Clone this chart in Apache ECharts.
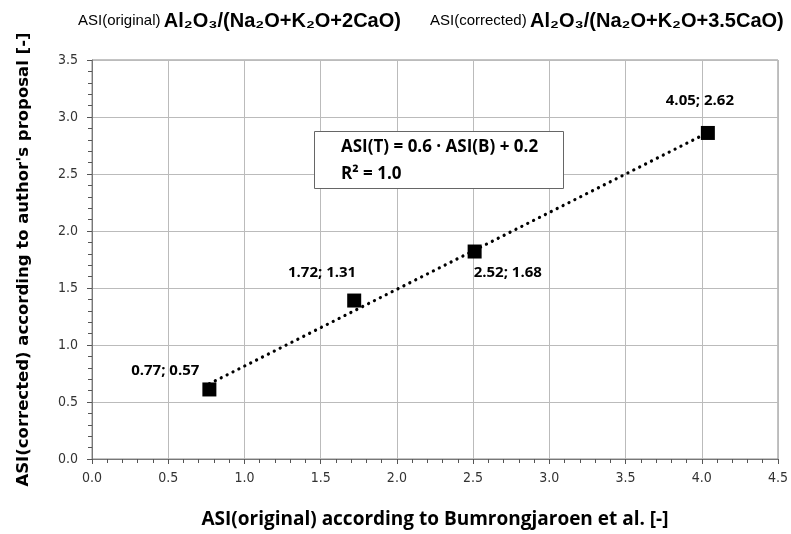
<!DOCTYPE html>
<html>
<head>
<meta charset="UTF-8">
<title>ASI comparison</title>
<script src="https://cdn.jsdelivr.net/npm/echarts@6/dist/echarts.min.js"></script>
<style>
  html, body { margin: 0; padding: 0; background: #fff; }
  #main { width: 791px; height: 534px; }
</style>
</head>
<body>
<div id="main"></div>
<script>
// measured points (ASI original, ASI corrected)
var asiOriginal = [0.77, 1.72, 2.51, 4.04];
var asiCorrected = [0.61, 1.39, 1.82, 2.86];
// point labels as printed on the chart
var pointLabels = ['0.77; 0.57', '1.72; 1.31', '2.52; 1.68', '4.05; 2.62'];
// dotted trend line end points
var trendX = [0.77, 4.05];
var trendY = [0.66, 2.87];
var xTicks = ['0.0', '0.5', '1.0', '1.5', '2.0', '2.5', '3.0', '3.5', '4.0', '4.5'];
var yTicks = ['0.0', '0.5', '1.0', '1.5', '2.0', '2.5', '3.0', '3.5'];

// label placement for each point
var labelPos = [
  { position: 'left', offset: [2, -19] },
  { position: 'left', offset: [14, -28] },
  { position: 'right', offset: [-13, 21] },
  { position: 'top', offset: [-8, -13] }
];

var chart = echarts.init(document.getElementById('main'));

var pts = asiOriginal.map(function (x, i) {
  return {
    value: [x, asiCorrected[i]],
    label: {
      show: true,
      formatter: pointLabels[i],
      position: labelPos[i].position,
      offset: labelPos[i].offset
    }
  };
});

var trend = trendX.map(function (x, i) { return [x, trendY[i]]; });

var tickFont = { fontFamily: 'Liberation Sans Narrow, DejaVu Sans Condensed, sans-serif', fontSize: 14, color: '#333' };

var option = {
  animation: false,
  backgroundColor: '#fff',
  grid: { left: 92, top: 60, right: 11, bottom: 75, show: true, borderColor: '#888', borderWidth: 1 },
  xAxis: {
    type: 'value',
    min: 0, max: 4.5, interval: 0.5,
    name: 'ASI(original) according to Bumrongjaroen et al. [-]',
    nameLocation: 'middle',
    nameGap: 51,
    nameTextStyle: { fontFamily: 'Open Sans, sans-serif', fontWeight: 'bold', fontSize: 19, color: '#000' },
    axisLine: { show: true, lineStyle: { color: '#777' } },
    axisTick: { show: true, length: 5, lineStyle: { color: '#555' } },
    minorTick: { show: true, splitNumber: 5, length: 4, lineStyle: { color: '#555' } },
    splitLine: { show: true, lineStyle: { color: '#bbb' } },
    axisLabel: Object.assign({ margin: 12, formatter: function (v) { return xTicks[Math.round(v / 0.5)]; } }, tickFont)
  },
  yAxis: {
    type: 'value',
    min: 0, max: 3.5, interval: 0.5,
    name: 'ASI(corrected) according to author\'s proposal [-]',
    nameLocation: 'middle',
    nameGap: 60,
    nameTextStyle: { fontFamily: 'DejaVu Sans, sans-serif', fontWeight: 'bold', fontSize: 16.5, color: '#000' },
    axisLine: { show: true, lineStyle: { color: '#777' } },
    axisTick: { show: true, length: 5, lineStyle: { color: '#555' } },
    minorTick: { show: true, splitNumber: 5, length: 4, lineStyle: { color: '#555' } },
    splitLine: { show: true, lineStyle: { color: '#bbb' } },
    axisLabel: Object.assign({ margin: 14, formatter: function (v) { return yTicks[Math.round(v / 0.5)]; } }, tickFont)
  },
  series: [
    {
      name: 'trend',
      type: 'line',
      data: trend,
      symbol: 'none',
      silent: true,
      z: 2,
      lineStyle: { color: '#000', width: 3.2, type: [0.1, 6.5], cap: 'round' }
    },
    {
      name: 'ASI',
      type: 'scatter',
      data: pts,
      symbol: 'rect',
      symbolSize: 14,
      z: 3,
      itemStyle: { color: '#000', opacity: 1 },
      label: {
        fontFamily: 'Open Sans, sans-serif',
        fontWeight: 'bold',
        fontSize: 15,
        color: '#000'
      }
    }
  ],
  graphic: [
    {
      type: 'text', left: 78, top: 11,
      style: {
        text: '{s|ASI(original)} {b|Al₂O₃/(Na₂O+K₂O+2CaO)}',
        rich: {
          s: { fontFamily: 'Liberation Sans Narrow, sans-serif', fontSize: 15, fill: '#000' },
          b: { fontFamily: 'Liberation Sans, sans-serif', fontWeight: 'bold', fontSize: 20, fill: '#000' }
        }
      }
    },
    {
      type: 'text', left: 430, top: 11,
      style: {
        text: '{s|ASI(corrected)} {b|Al₂O₃/(Na₂O+K₂O+3.5CaO)}',
        rich: {
          s: { fontFamily: 'Liberation Sans Narrow, sans-serif', fontSize: 15, fill: '#000' },
          b: { fontFamily: 'Liberation Sans, sans-serif', fontWeight: 'bold', fontSize: 20, fill: '#000' }
        }
      }
    },
    {
      type: 'rect', left: 314, top: 131,
      shape: { width: 249, height: 57 },
      style: { fill: '#fff', stroke: '#666', lineWidth: 1 },
      z: 10
    },
    {
      type: 'text', left: 341, top: 134, z: 11,
      style: {
        text: 'ASI(T) = 0.6 · ASI(B) + 0.2\nR² = 1.0',
        fontFamily: 'Open Sans, sans-serif', fontWeight: 'bold', fontSize: 17,
        lineHeight: 27, fill: '#000'
      }
    }
  ]
};

chart.setOption(option);
</script>
</body>
</html>
